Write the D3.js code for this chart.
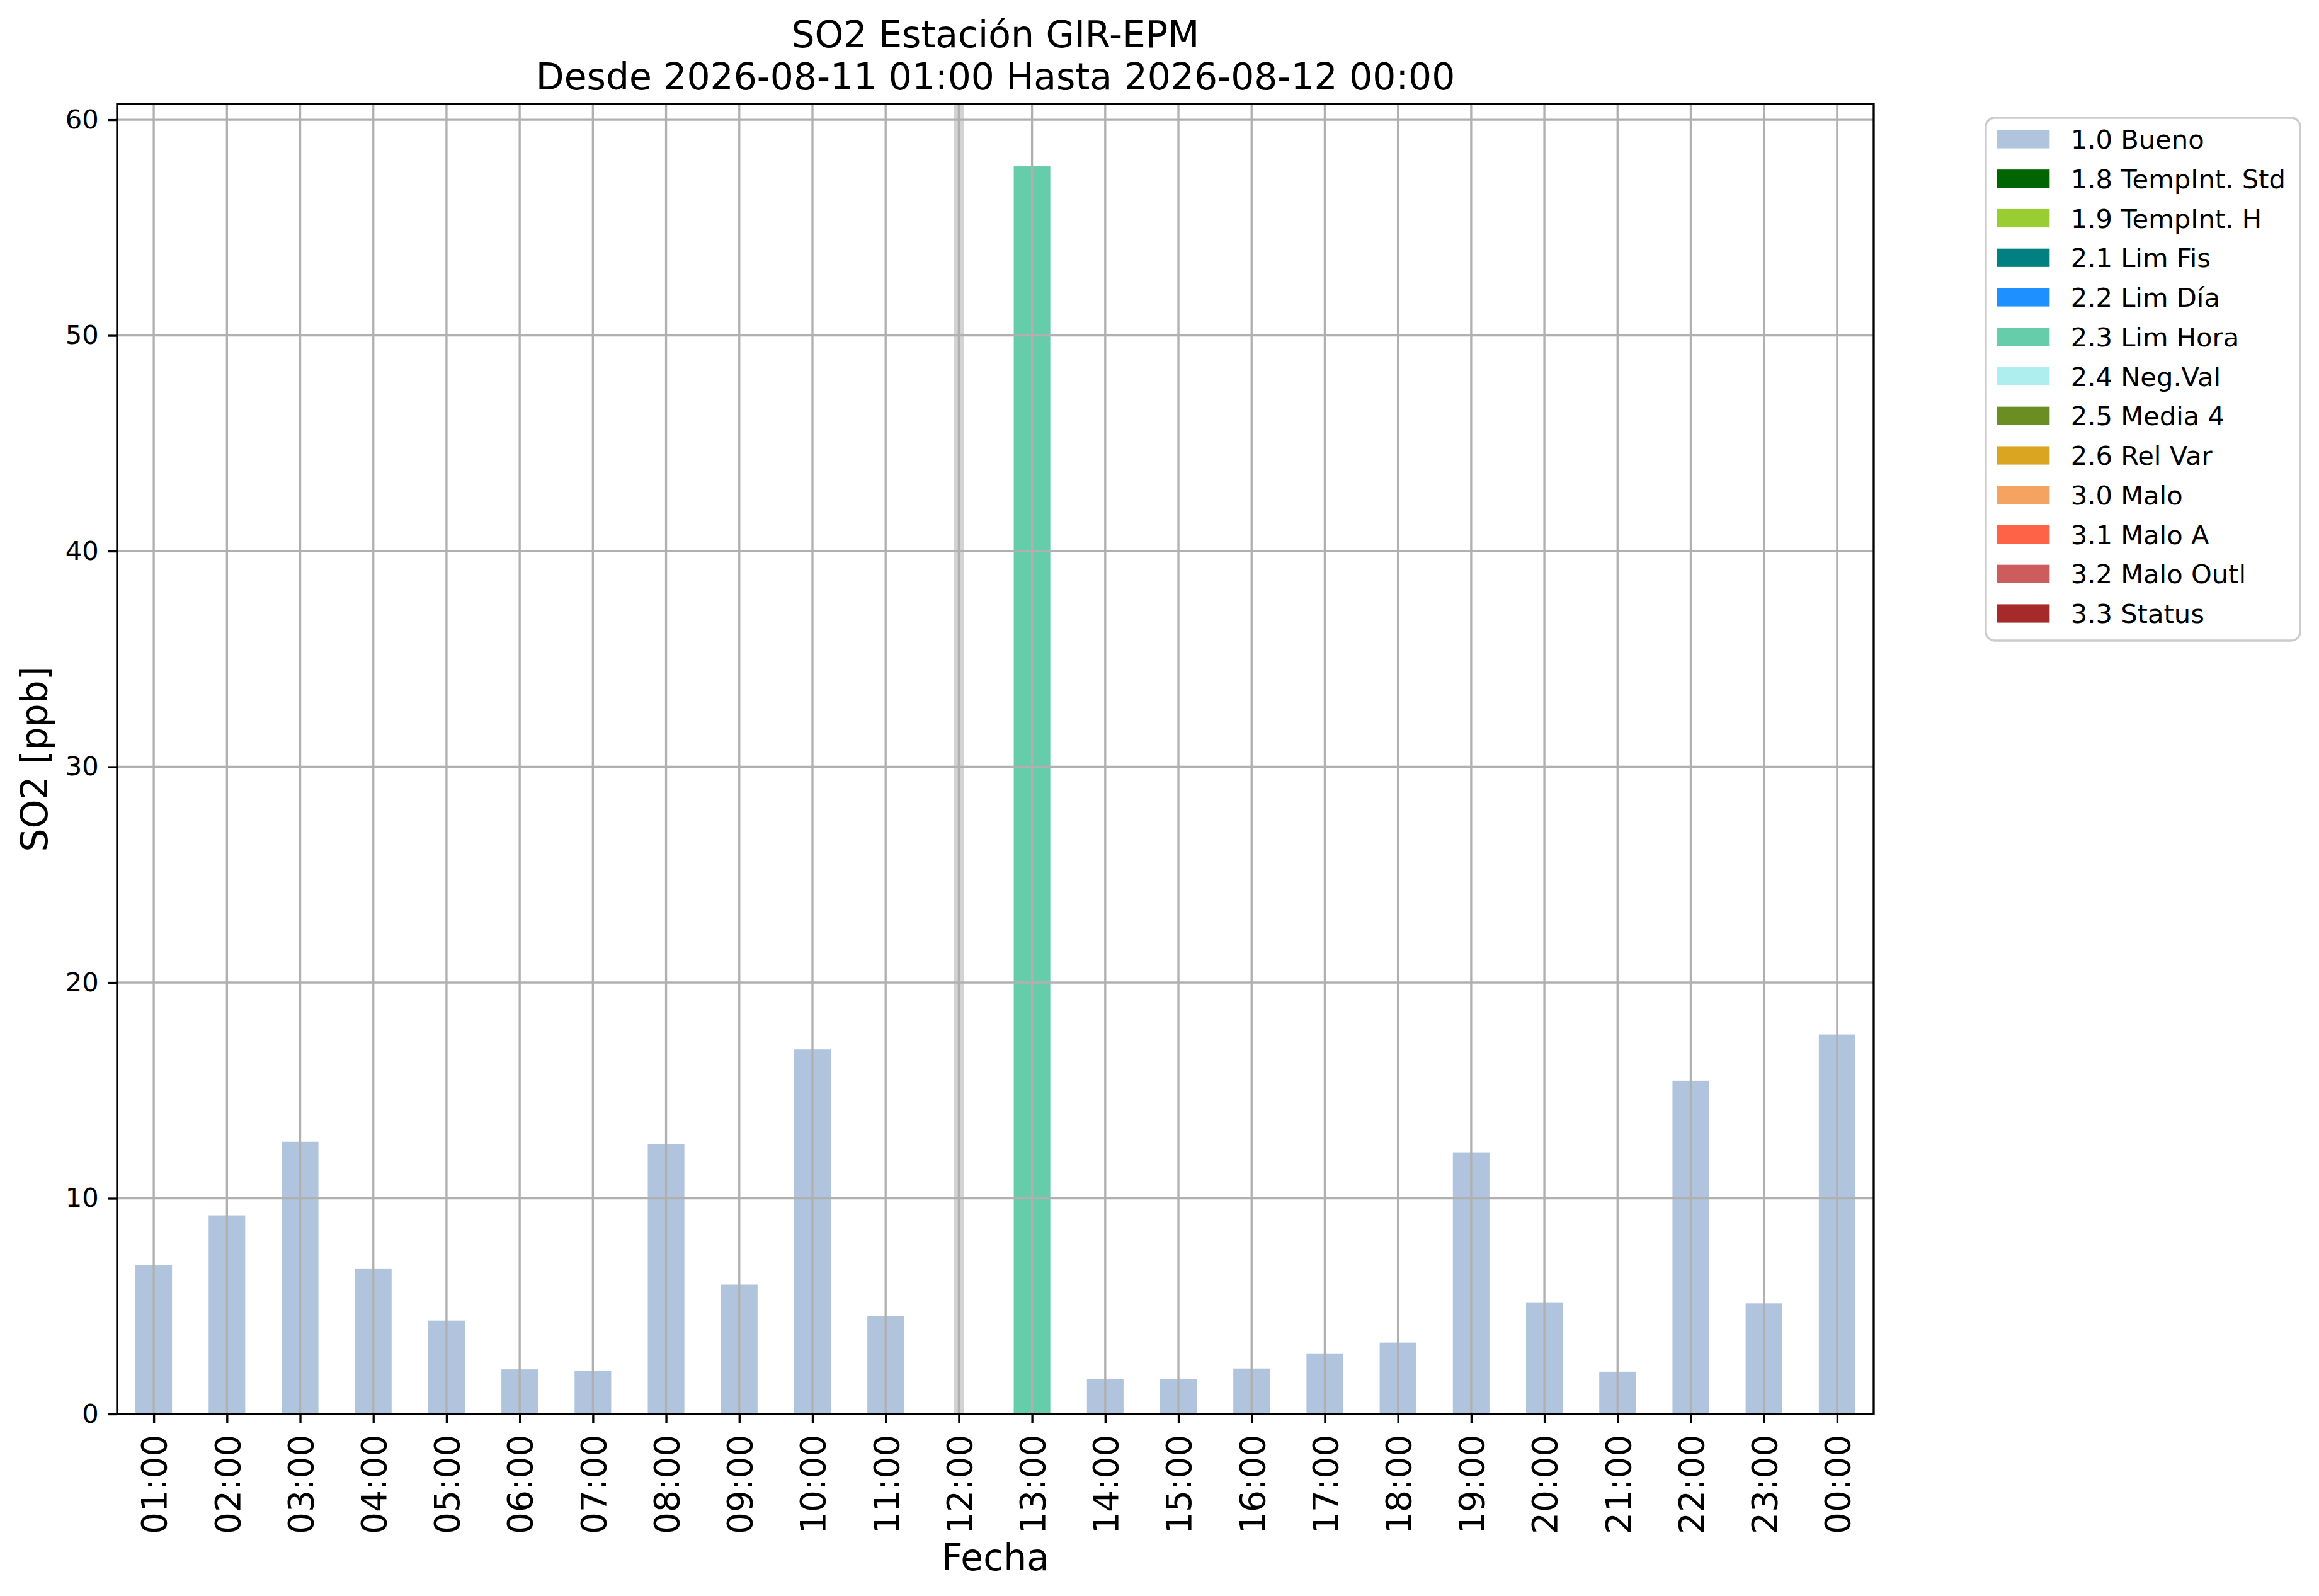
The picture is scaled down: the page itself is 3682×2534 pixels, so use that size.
<!DOCTYPE html>
<html>
<head>
<meta charset="utf-8">
<script src="https://cdn.jsdelivr.net/npm/d3@7"></script>
<style>
  body { margin: 0; background: #fff; }
  text { font-family: "DejaVu Sans", sans-serif; }
</style>
</head>
<body>
<div id="chart"></div>
<script>
// Hourly SO2 values, one per hour (null = no data)
const hours = ["01:00", "02:00", "03:00", "04:00", "05:00", "06:00", "07:00", "08:00",
               "09:00", "10:00", "11:00", "12:00", "13:00", "14:00", "15:00", "16:00",
               "17:00", "18:00", "19:00", "20:00", "21:00", "22:00", "23:00", "00:00"];
const values = [6.89, 9.21, 12.62, 6.72, 4.33, 2.07, 1.99, 12.52, 6.0, 16.9, 4.54, null,
                57.84, 1.62, 1.62, 2.11, 2.81, 3.31, 12.13, 5.15, 1.96, 15.45, 5.13, 17.59];
const flags = ["1.0", "1.0", "1.0", "1.0", "1.0", "1.0", "1.0", "1.0", "1.0", "1.0", "1.0", null,
               "2.3", "1.0", "1.0", "1.0", "1.0", "1.0", "1.0", "1.0", "1.0", "1.0", "1.0", "1.0"];

// Quality flag legend
const flagCodes = ["1.0", "1.8", "1.9", "2.1", "2.2", "2.3", "2.4", "2.5", "2.6", "3.0", "3.1", "3.2", "3.3"];
const flagLabels = ["1.0 Bueno", "1.8 TempInt. Std", "1.9 TempInt. H", "2.1 Lim Fis", "2.2 Lim Día",
                    "2.3 Lim Hora", "2.4 Neg.Val", "2.5 Media 4", "2.6 Rel Var", "3.0 Malo",
                    "3.1 Malo A", "3.2 Malo Outl", "3.3 Status"];
const flagColors = ["lightsteelblue", "darkgreen", "yellowgreen", "teal", "dodgerblue",
                    "mediumaquamarine", "paleturquoise", "olivedrab", "goldenrod", "sandybrown",
                    "tomato", "indianred", "brown"];

const yTicks = [0, 10, 20, 30, 40, 50, 60];

const titleLines = ["SO2 Estación GIR-EPM", "Desde 2026-08-11 01:00 Hasta 2026-08-12 00:00"];

const W = 3682, H = 2534;
const pt = 300 / 72;   // px per point
const margin = {left: 186, right: W - 2975, top: 165, bottom: H - 2245};

const svg = d3.select("#chart").append("svg")
    .attr("width", W)
    .attr("height", H);

const x = d3.scaleLinear()
    .domain([-0.5, hours.length - 0.5])
    .range([margin.left, W - margin.right]);

const ymax = d3.max(values) * 1.05;
const y = d3.scaleLinear()
    .domain([0, ymax])
    .range([H - margin.bottom, margin.top]);

const color = d3.scaleOrdinal().domain(flagCodes).range(flagColors);

// missing hours get a light vertical band
const idx = hours.map((_, i) => i);
svg.append("g").selectAll("line")
    .data(idx.filter(i => values[i] === null))
    .join("line")
    .attr("x1", i => x(i)).attr("x2", i => x(i))
    .attr("y1", y(ymax)).attr("y2", y(0))
    .attr("stroke", "#d3d3d3")
    .attr("stroke-width", 4 * pt);

// bars
svg.append("g").selectAll("rect")
    .data(idx.filter(i => values[i] !== null))
    .join("rect")
    .attr("x", i => x(i - 0.25))
    .attr("width", i => x(i + 0.25) - x(i - 0.25))
    .attr("y", i => y(values[i]))
    .attr("height", i => y(0) - y(values[i]))
    .attr("fill", i => color(flags[i]));

// grid (drawn on top of the bars)
const grid = svg.append("g")
    .attr("stroke", "#b0b0b0")
    .attr("stroke-width", 0.8 * pt);
grid.selectAll(".vg").data(idx).join("line")
    .attr("x1", i => x(i)).attr("x2", i => x(i))
    .attr("y1", y(ymax)).attr("y2", y(0));
grid.selectAll(".hg").data(yTicks).join("line")
    .attr("x1", x(-0.5)).attr("x2", x(hours.length - 0.5))
    .attr("y1", d => y(d)).attr("y2", d => y(d));

// axes
const xAxis = svg.append("g")
    .attr("transform", `translate(0, ${y(0)})`)
    .call(d3.axisBottom(x)
        .tickValues(idx)
        .tickFormat(i => hours[i])
        .tickSize(3.5 * pt)
        .tickSizeOuter(0));
xAxis.selectAll("text")
    .attr("transform", "rotate(-90)")
    .attr("text-anchor", "end")
    .attr("x", -7.8 * pt)
    .attr("y", 0)
    .attr("dy", "0.36em")
    .style("font-size", "55px");

const yAxis = svg.append("g")
    .attr("transform", `translate(${x(-0.5)}, 0)`)
    .call(d3.axisLeft(y)
        .tickValues(yTicks)
        .tickSize(3.5 * pt)
        .tickPadding(3.5 * pt)
        .tickSizeOuter(0));
yAxis.selectAll("text").style("font-size", (10 * pt) + "px");

svg.selectAll(".domain").remove();
svg.selectAll(".tick line").attr("stroke", "#000").attr("stroke-width", 0.8 * pt);
svg.selectAll(".tick text").attr("fill", "#000");

// spines
svg.append("rect")
    .attr("x", x(-0.5)).attr("y", y(ymax))
    .attr("width", x(hours.length - 0.5) - x(-0.5))
    .attr("height", y(0) - y(ymax))
    .attr("fill", "none")
    .attr("stroke", "#000")
    .attr("stroke-width", 0.8 * pt);

// titles and labels
const cx = (x(-0.5) + x(hours.length - 0.5)) / 2;
svg.append("g").selectAll("text")
    .data(titleLines)
    .join("text")
    .attr("x", cx)
    .attr("y", (d, i) => 75 + i * 67)
    .attr("text-anchor", "middle")
    .style("font-size", (14 * pt) + "px")
    .text(d => d);

svg.append("text")
    .attr("x", cx)
    .attr("y", 2493)
    .attr("text-anchor", "middle")
    .style("font-size", (14 * pt) + "px")
    .text("Fecha");

svg.append("text")
    .attr("transform", `translate(75, ${(y(0) + y(ymax)) / 2}) rotate(-90)`)
    .attr("text-anchor", "middle")
    .style("font-size", (14 * pt) + "px")
    .text("SO2 [ppb]");

// legend, outside the axes on the right
const fs = 10 * pt;
const lg = svg.append("g").attr("transform", "translate(3153, 187)");
lg.append("rect")
    .attr("width", 499).attr("height", 830)
    .attr("rx", 14).attr("ry", 14)
    .attr("fill", "#fff").attr("fill-opacity", 0.8)
    .attr("stroke", "#cccccc").attr("stroke-width", 0.8 * pt);
const rows = lg.selectAll(".row")
    .data(flagCodes)
    .join("g")
    .attr("transform", (d, i) => `translate(0, ${34 + i * 62.75})`);
rows.append("rect")
    .attr("x", 18).attr("y", -0.35 * fs)
    .attr("width", 2 * fs).attr("height", 0.7 * fs)
    .attr("fill", d => color(d));
rows.append("text")
    .attr("x", 18 + 2.8 * fs)
    .attr("dy", "0.36em")
    .style("font-size", fs + "px")
    .text((d, i) => flagLabels[i]);
</script>
</body>
</html>
